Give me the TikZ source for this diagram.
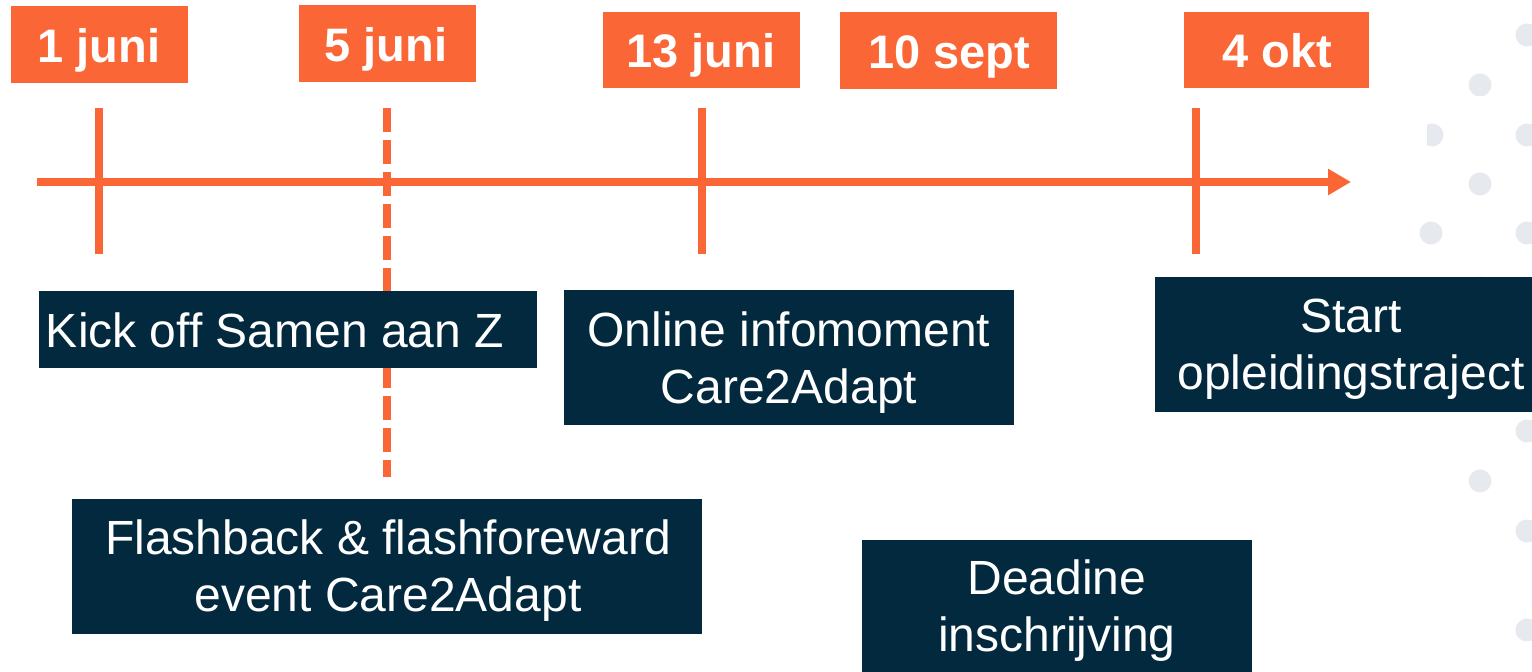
\documentclass[tikz,border=0pt]{standalone}
\usepackage{fontspec}
\setmainfont{Liberation Sans}
\usetikzlibrary{arrows.meta}
\definecolor{tlorange}{HTML}{FA6635}
\definecolor{tlnavy}{HTML}{02293E}
\definecolor{tldot}{HTML}{E6E9ED}
\begin{document}
\begin{tikzpicture}[x=0.5pt,y=-0.5pt,
  datebox/.style={fill=tlorange,inner sep=0pt},
  datetext/.style={text=white,inner sep=0pt,anchor=base,font=\fontsize{23.5pt}{28pt}\selectfont\bfseries},
  eventbox/.style={fill=tlnavy,inner sep=0pt},
  eventtext/.style={text=white,inner sep=0pt,anchor=base,font=\fontsize{24pt}{28.5pt}\selectfont},
  axis/.style={draw=tlorange,line width=4pt},
  tick/.style={draw=tlorange,line width=4pt},
  dashtick/.style={draw=tlorange,line width=4pt,dash pattern=on 12pt off 4pt},
  dot/.style={fill=tldot}]
\useasboundingbox (0,0) rectangle (1532,672);
% background dots
\foreach \px/\py in {1527/35,1480/85,1527/135,1480/184,1431/233,1527/233,1480/288,1527/431,1480/481,1527/531,1527/630}
  \fill[dot] (\px,\py) circle[radius=5.75pt];
\begin{scope}
  \clip (1427,110) rectangle (1460,160);
  \fill[dot] (1432,135) circle[radius=5.75pt];
\end{scope}
% coordinates
\coordinate (axL) at (37,182);
\coordinate (axR) at (1351,182);
\coordinate (t1a) at (99,108);  \coordinate (t1b) at (99,254);
\coordinate (t5a) at (387,108); \coordinate (t5b) at (387,477);
\coordinate (t13a) at (702,108); \coordinate (t13b) at (702,254);
\coordinate (t4a) at (1196,108); \coordinate (t4b) at (1196,254);
% axis and ticks
\draw[axis,-{Triangle[length=11.5pt,width=12.5pt]}] (axL) -- (axR);
\draw[tick] (t1a) -- (t1b);
\draw[tick] (t13a) -- (t13b);
\draw[tick] (t4a) -- (t4b);
\draw[dashtick] (t5a) -- (t5b);
% date boxes
\node[datebox,minimum width=88.5pt,minimum height=38.5pt] (d1) at (99.5,44.5) {};
\node[datebox,minimum width=88.5pt,minimum height=38.5pt] (d5) at (387.5,43.5) {};
\node[datebox,minimum width=98.5pt,minimum height=38pt] (d13) at (701.5,50) {};
\node[datebox,minimum width=108.5pt,minimum height=38.5pt] (d10) at (948.5,50.5) {};
\node[datebox,minimum width=92.5pt,minimum height=38pt] (d4) at (1276.5,50) {};
\node[datetext] (d1-t) at (99,63) {1 juni};
\node[datetext] (d5-t) at (386,62) {5 juni};
\node[datetext] (d13-t) at (701,68) {13 juni};
\node[datetext] (d10-t) at (949,69) {10 sept};
\node[datetext] (d4-t) at (1277,68) {4 okt};
% event boxes
\node[eventbox,minimum width=249pt,minimum height=38.5pt] (kick) at (288,329.5) {};
\node[eventbox,minimum width=225pt,minimum height=67.5pt] (online) at (789,357.5) {};
\node[eventbox,minimum width=195pt,minimum height=67.5pt] (start) at (1350,344.5) {};
\node[eventbox,minimum width=315pt,minimum height=67.5pt] (flash) at (387,566.5) {};
\node[eventbox,minimum width=195pt,minimum height=67.5pt] (dead) at (1057,607.5) {};
\node[eventtext] (kick-t) at (275,348) {Kick off Samen aan Z};
\node[eventtext] (online-t1) at (789,347) {Online infomoment};
\node[eventtext] (online-t2) at (789,404) {Care2Adapt};
\node[eventtext] (start-t1) at (1351,333) {Start};
\node[eventtext] (start-t2) at (1351,390) {opleidingstraject};
\node[eventtext] (flash-t1) at (388,555) {Flashback \& flashforeward};
\node[eventtext] (flash-t2) at (388,612) {event Care2Adapt};
\node[eventtext] (dead-t1) at (1057,595) {Deadine};
\node[eventtext] (dead-t2) at (1057,652) {inschrijving};
\end{tikzpicture}
\end{document}
